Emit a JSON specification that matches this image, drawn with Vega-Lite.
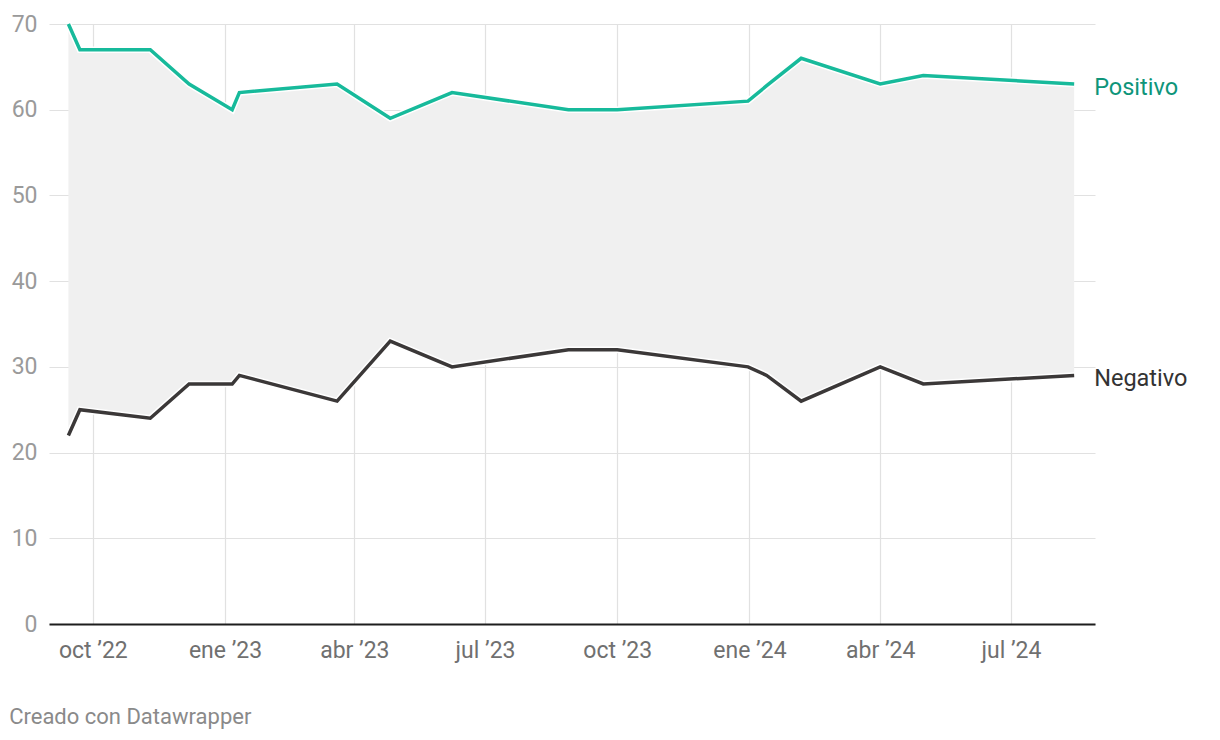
{
  "$schema": "https://vega.github.io/schema/vega-lite/v6.json",
  "width": 1046,
  "height": 600,
  "autosize": {"type": "none"},
  "padding": {"left": 49, "top": 24, "right": 125, "bottom": 116},
  "background": "white",
  "config": {
    "font": "Roboto",
    "view": {"stroke": null},
    "axis": {"title": null, "grid": true, "gridColor": "#e1e1e1", "gridWidth": 1.2, "ticks": false, "labelFont": "Roboto", "labelFontSize": 23},
    "axisX": {"domain": true, "domainColor": "#1d1d1d", "domainWidth": 2, "labelColor": "#707070", "labelPadding": 15},
    "axisY": {"domain": false, "labelColor": "#9a9a9a", "labelPadding": 12}
  },
  "title": {
    "text": "Creado con Datawrapper",
    "orient": "bottom",
    "anchor": "start",
    "frame": "bounds",
    "font": "Roboto",
    "fontSize": 22,
    "fontWeight": "normal",
    "color": "#8a8a8a",
    "offset": 45,
    "dx": -2
  },
  "data": {
    "values": [
      {"date": "2022-09-14", "Positivo": 70, "Negativo": 22},
      {"date": "2022-09-22", "Positivo": 67, "Negativo": 25},
      {"date": "2022-11-10", "Positivo": 67, "Negativo": 24},
      {"date": "2022-12-07", "Positivo": 63, "Negativo": 28},
      {"date": "2023-01-06", "Positivo": 60, "Negativo": 28},
      {"date": "2023-01-11", "Positivo": 62, "Negativo": 29},
      {"date": "2023-03-20", "Positivo": 63, "Negativo": 26},
      {"date": "2023-04-26", "Positivo": 59, "Negativo": 33},
      {"date": "2023-06-08", "Positivo": 62, "Negativo": 30},
      {"date": "2023-08-28", "Positivo": 60, "Negativo": 32},
      {"date": "2023-10-01", "Positivo": 60, "Negativo": 32},
      {"date": "2023-12-31", "Positivo": 61, "Negativo": 30},
      {"date": "2024-01-13", "Positivo": 62.8, "Negativo": 29},
      {"date": "2024-02-06", "Positivo": 66, "Negativo": 26},
      {"date": "2024-04-01", "Positivo": 63, "Negativo": 30},
      {"date": "2024-05-01", "Positivo": 64, "Negativo": 28},
      {"date": "2024-08-14", "Positivo": 63, "Negativo": 29}
    ]
  },
  "encoding": {
    "x": {
      "field": "date",
      "type": "temporal",
      "scale": {"type": "utc", "domain": [{"year": 2022, "month": 8, "date": 31, "hours": 12, "utc": true}, {"year": 2024, "month": 8, "date": 28, "hours": 12, "utc": true}]},
      "axis": {
        "values": [
          {"year": 2022, "month": 10, "date": 1, "utc": true},
          {"year": 2023, "month": 1, "date": 1, "utc": true},
          {"year": 2023, "month": 4, "date": 1, "utc": true},
          {"year": 2023, "month": 7, "date": 1, "utc": true},
          {"year": 2023, "month": 10, "date": 1, "utc": true},
          {"year": 2024, "month": 1, "date": 1, "utc": true},
          {"year": 2024, "month": 4, "date": 1, "utc": true},
          {"year": 2024, "month": 7, "date": 1, "utc": true}
        ],
        "labelExpr": "['ene','feb','mar','abr','may','jun','jul','ago','sep','oct','nov','dic'][utcmonth(datum.value)] + ' ’' + utcFormat(datum.value, '%y')"
      }
    }
  },
  "layer": [
    {
      "mark": {"type": "area", "color": "#f0f0f0"},
      "encoding": {
        "y": {"field": "Positivo", "type": "quantitative", "scale": {"domain": [0, 70], "nice": false}, "axis": {"values": [0, 10, 20, 30, 40, 50, 60, 70]}},
        "y2": {"field": "Negativo"}
      }
    },
    {
      "mark": {"type": "line", "color": "white", "strokeWidth": 6.5},
      "encoding": {"y": {"field": "Positivo", "type": "quantitative"}}
    },
    {
      "mark": {"type": "line", "color": "#17ba9b", "strokeWidth": 3.5},
      "encoding": {"y": {"field": "Positivo", "type": "quantitative"}}
    },
    {
      "mark": {"type": "line", "color": "white", "strokeWidth": 6.5},
      "encoding": {"y": {"field": "Negativo", "type": "quantitative"}}
    },
    {
      "mark": {"type": "line", "color": "#3b3838", "strokeWidth": 3.5},
      "encoding": {"y": {"field": "Negativo", "type": "quantitative"}}
    },
    {
      "transform": [{"filter": "utcyear(datum.date) == 2024 && utcmonth(datum.date) == 7"}],
      "mark": {"type": "text", "align": "left", "baseline": "middle", "dx": 20, "dy": 4, "font": "Roboto", "fontSize": 23.5, "color": "#0e957a"},
      "encoding": {"y": {"field": "Positivo", "type": "quantitative"}, "text": {"value": "Positivo"}}
    },
    {
      "transform": [{"filter": "utcyear(datum.date) == 2024 && utcmonth(datum.date) == 7"}],
      "mark": {"type": "text", "align": "left", "baseline": "middle", "dx": 20, "dy": 4, "font": "Roboto", "fontSize": 23.5, "color": "#333333"},
      "encoding": {"y": {"field": "Negativo", "type": "quantitative"}, "text": {"value": "Negativo"}}
    }
  ]
}
